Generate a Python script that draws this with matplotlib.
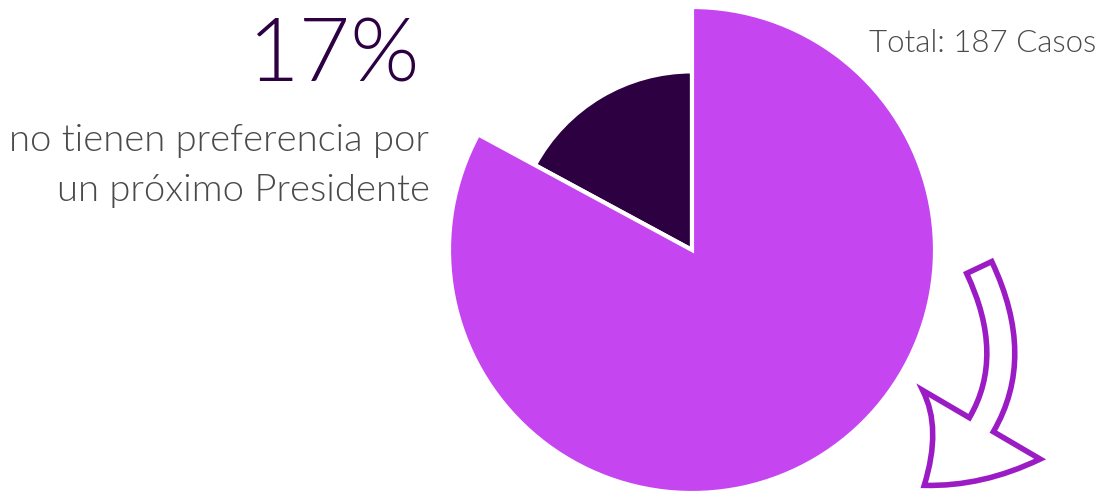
import matplotlib.pyplot as plt
from matplotlib.patches import FancyArrowPatch

# datos: casos por categoria (total 187)
labels = ['Sin preferencia', 'Con preferencia']
casos = [32, 155]
colores = ['#2D0041', '#C545F0']
pct_texto = '17%'
descripcion = ['no tienen preferencia por', 'un próximo Presidente']
total_texto = 'Total: 187 Casos'

W, H = 1102, 494
fig = plt.figure(figsize=(W / 100, H / 100), dpi=100)
plt.rcParams['font.family'] = ['Lato', 'DejaVu Sans']

def px(x, y):
    """pixeles (origen arriba-izq) -> fraccion de figura"""
    return x / W, 1 - y / H

# ejes del pie: centro ~(692,250), radio ~243 px
r = 243
cx, cy = 692, 250
ax = fig.add_axes([(cx - r) / W, 1 - (cy + r) / H, 2 * r / W, 2 * r / H])
wedges, _ = ax.pie(casos, colors=colores, startangle=90, counterclock=True,
                   wedgeprops=dict(edgecolor='white', linewidth=3))
wedges[0].set_radius(0.735)
ax.set_xlim(-1, 1)
ax.set_ylim(-1, 1)
ax.set_aspect('equal')
ax.axis('off')

# textos
fig.text(*px(420, 81), pct_texto, ha='right', va='baseline', fontsize=64,
         color='#2D0041', fontweight=300)
fig.text(*px(429, 151), descripcion[0], ha='right', va='baseline', fontsize=27.5,
         color='#4a4a4a', fontweight=300)
fig.text(*px(430, 201), descripcion[1], ha='right', va='baseline', fontsize=27.5,
         color='#4a4a4a', fontweight=300)
fig.text(*px(1096, 52), total_texto, ha='right', va='baseline', fontsize=22.5,
         color='#4a4a4a', fontweight=300)

# flecha curva decorativa
flecha = FancyArrowPatch(px(978, 265), px(922, 487), transform=fig.transFigure,
                         connectionstyle='arc3,rad=-0.42',
                         arrowstyle='simple,head_length=60,head_width=98,tail_width=20',
                         facecolor='none', edgecolor='#9B1CC5', linewidth=4,
                         joinstyle='miter')
fig.patches.append(flecha)

plt.savefig('out.png', dpi=100)
